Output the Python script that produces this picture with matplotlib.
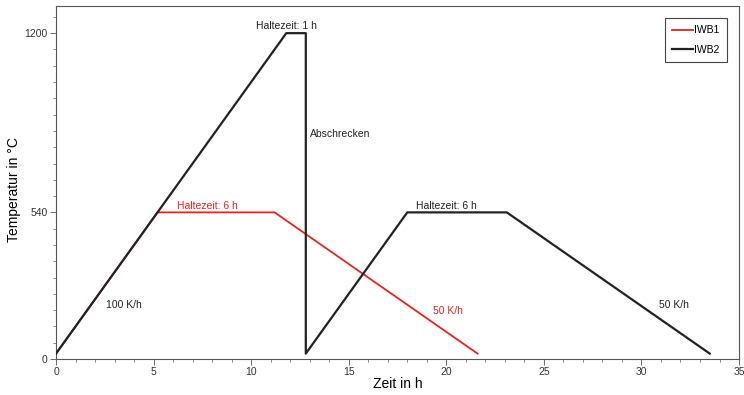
import matplotlib.pyplot as plt
from matplotlib.ticker import MultipleLocator

plt.rcParams['font.family'] = ['Liberation Sans', 'DejaVu Sans']

# Temperaturverlauf IWB1 (Zeit in h, Temperatur in °C)
t_iwb1 = [0, 5.2, 11.2, 21.6]
T_iwb1 = [20, 540, 540, 20]

# Temperaturverlauf IWB2
t_iwb2 = [0, 11.8, 12.8, 12.8, 18.0, 23.1, 33.5]
T_iwb2 = [20, 1200, 1200, 20, 540, 540, 20]

y_ticks = [0, 540, 1200]
x_ticks = [0, 5, 10, 15, 20, 25, 30, 35]

rot = '#e8231f'
schwarz = '#222222'

fig = plt.figure(figsize=(7.44, 3.95), dpi=100)
ax = fig.add_axes([0.0753, 0.0911, 0.918, 0.8937])

ax.plot(t_iwb1, T_iwb1, color=rot, lw=1.3, label='IWB1', zorder=2)
ax.plot(t_iwb2, T_iwb2, color=schwarz, lw=1.6, label='IWB2', zorder=3)

ax.set_xlim(0, 35)
ax.set_ylim(0, 1300)
ax.set_xticks(x_ticks)
ax.set_yticks(y_ticks)
ax.xaxis.set_minor_locator(MultipleLocator(1))
ax.yaxis.set_minor_locator(MultipleLocator(60))
ax.tick_params(which='major', length=4, width=0.6, color='#555555',
               labelsize=7.5, labelcolor='#333333', pad=2)
ax.tick_params(which='minor', length=2.5, width=0.5, color='#555555')
for s in ax.spines.values():
    s.set_color('#555555')
    s.set_linewidth(0.8)

ax.set_xlabel('Zeit in h', fontsize=10, labelpad=0)
ax.set_ylabel('Temperatur in °C', fontsize=10, va='center')
ax.yaxis.set_label_coords(-0.062, 0.48)

# Beschriftungen
fs = 7.5
ax.text(10.23, 1226, 'Haltezeit: 1 h', fontsize=fs, color=schwarz, va='center')
ax.text(13.0, 829, 'Abschrecken', fontsize=fs, color=schwarz, va='center')
ax.text(6.22, 565, 'Haltezeit: 6 h', fontsize=fs, color=rot, va='center')
ax.text(18.46, 565, 'Haltezeit: 6 h', fontsize=fs, color=schwarz, va='center')
ax.text(2.57, 198, '100 K/h', fontsize=fs, color=schwarz, va='center')
ax.text(19.33, 176, '50 K/h', fontsize=fs, color=rot, va='center')
ax.text(30.9, 198, '50 K/h', fontsize=fs, color=schwarz, va='center')

leg = ax.legend(loc='upper right', bbox_to_anchor=(0.982, 0.966), fontsize=7.5,
                handlelength=2.0, handletextpad=0.1, labelspacing=0.9,
                borderpad=0.7, borderaxespad=0, fancybox=False, framealpha=1)
leg.get_frame().set_edgecolor('#444444')
leg.get_frame().set_linewidth(0.8)

fig.savefig('out.png', dpi=100)
